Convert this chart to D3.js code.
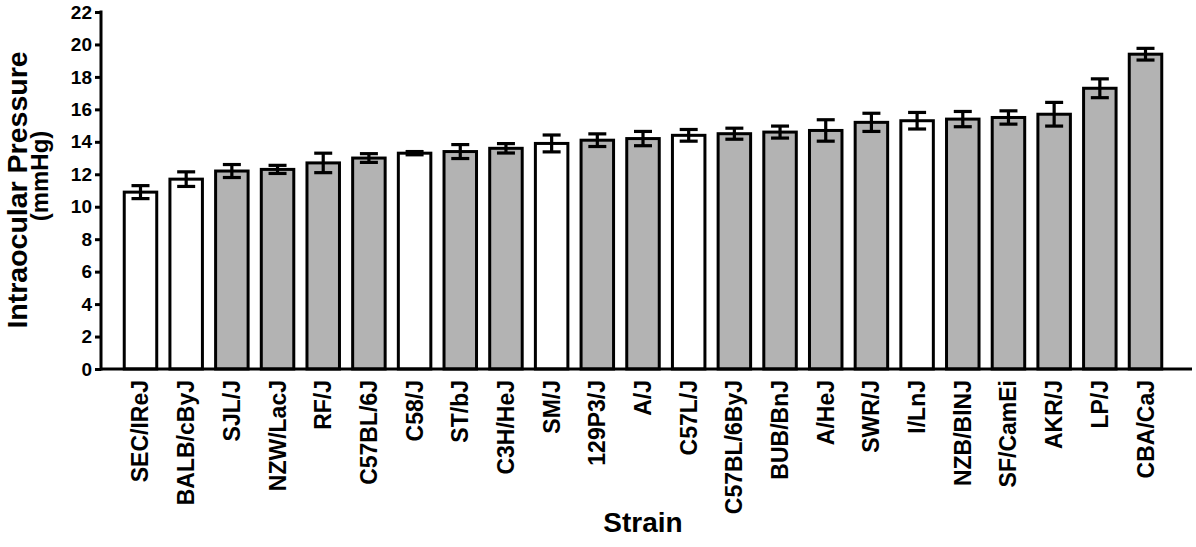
<!DOCTYPE html>
<html>
<head>
<meta charset="utf-8">
<script src="https://cdn.jsdelivr.net/npm/d3@7"></script>
<style>
  body { margin: 0; background: #fff; }
  svg { display: block; font-family: "Liberation Sans", Arial, Helvetica, sans-serif; font-weight: bold; }
</style>
</head>
<body>
<svg id="chart" width="1196" height="547"></svg>
<script>
// strains, sorted by mean IOP
const strains = ['SEC/IReJ', 'BALB/cByJ', 'SJL/J', 'NZW/LacJ', 'RF/J', 'C57BL/6J', 'C58/J', 'ST/bJ',
  'C3H/HeJ', 'SM/J', '129P3/J', 'A/J', 'C57L/J', 'C57BL/6ByJ', 'BUB/BnJ', 'A/HeJ', 'SWR/J',
  'I/LnJ', 'NZB/BlNJ', 'SF/CamEi', 'AKR/J', 'LP/J', 'CBA/CaJ'];
const means = [10.9, 11.7, 12.2, 12.3, 12.7, 13.0, 13.3, 13.4, 13.6, 13.9, 14.1, 14.2, 14.4,
  14.5, 14.6, 14.7, 15.2, 15.3, 15.4, 15.5, 15.7, 17.3, 19.4];
const sems = [0.4, 0.45, 0.4, 0.25, 0.6, 0.27, 0.1, 0.43, 0.29, 0.52, 0.39, 0.44, 0.36,
  0.34, 0.37, 0.66, 0.56, 0.51, 0.47, 0.41, 0.73, 0.58, 0.36];
// open (white) bars
const openBars = ['SEC/IReJ', 'BALB/cByJ', 'C58/J', 'SM/J', 'C57L/J', 'I/LnJ'];
const yTicks = [0, 2, 4, 6, 8, 10, 12, 14, 16, 18, 20, 22];

const data = strains.map((s, i) => ({ name: s, mean: means[i], sem: sems[i] }));

const svg = d3.select('#chart');
const axisX = 101, baseY = 369;

const x = d3.scaleBand()
  .domain(strains)
  .range([117.65, 1168.35])
  .paddingInner(0.223)
  .paddingOuter(0.1115);

const y = d3.scaleLinear()
  .domain([0, 22])
  .range([baseY, 12]);

// bars
svg.append('g')
  .selectAll('rect')
  .data(data)
  .join('rect')
  .attr('x', d => x(d.name) + 1.5)
  .attr('width', x.bandwidth() - 3)
  .attr('y', d => y(d.mean))
  .attr('height', d => baseY - y(d.mean))
  .attr('fill', d => openBars.includes(d.name) ? '#fff' : '#b3b3b3')
  .attr('stroke', '#000')
  .attr('stroke-width', 3);

// error bars
const err = svg.append('g').attr('stroke', '#000').attr('stroke-width', 3.2);
data.forEach(d => {
  const cx = x(d.name) + x.bandwidth() / 2;
  err.append('line')
    .attr('x1', cx).attr('x2', cx)
    .attr('y1', y(d.mean + d.sem)).attr('y2', y(d.mean - d.sem));
  [d.mean + d.sem, d.mean - d.sem].forEach(v => {
    err.append('line')
      .attr('x1', cx - 9).attr('x2', cx + 9)
      .attr('y1', y(v)).attr('y2', y(v));
  });
});

// y axis
const yAxis = svg.append('g')
  .attr('transform', `translate(${axisX},0)`)
  .call(d3.axisLeft(y).tickValues(yTicks).tickSize(6).tickSizeOuter(0).tickPadding(3));
yAxis.select('.domain').attr('stroke', '#000').attr('stroke-width', 3)
  .attr('d', `M0,${y(22) - 1.5}V${baseY + 1.5}`);
yAxis.selectAll('.tick line').attr('stroke', '#000').attr('stroke-width', 3);
yAxis.selectAll('.tick text')
  .attr('font-size', 19)
  .attr('font-weight', 'bold')
  .attr('font-family', '"Liberation Sans", Arial, sans-serif')
  .attr('fill', '#000');

// x axis line
svg.append('line')
  .attr('x1', axisX).attr('x2', 1192)
  .attr('y1', baseY).attr('y2', baseY)
  .attr('stroke', '#000').attr('stroke-width', 3);

// x labels, rotated
svg.append('g')
  .selectAll('text')
  .data(strains)
  .join('text')
  .attr('transform', d => `translate(${x(d) + x.bandwidth() / 2 + 8},380) rotate(-90)`)
  .attr('text-anchor', 'end')
  .attr('font-size', 23)
  .text(d => d);

// axis titles
svg.append('text')
  .attr('transform', 'translate(27,190) rotate(-90)')
  .attr('text-anchor', 'middle')
  .attr('font-size', 28.5)
  .text('Intraocular Pressure');
svg.append('text')
  .attr('transform', 'translate(48,176) rotate(-90)')
  .attr('text-anchor', 'middle')
  .attr('font-size', 24)
  .text('(mmHg)');

svg.append('text')
  .attr('x', 643)
  .attr('y', 532)
  .attr('text-anchor', 'middle')
  .attr('font-size', 28)
  .text('Strain');
</script>
</body>
</html>
